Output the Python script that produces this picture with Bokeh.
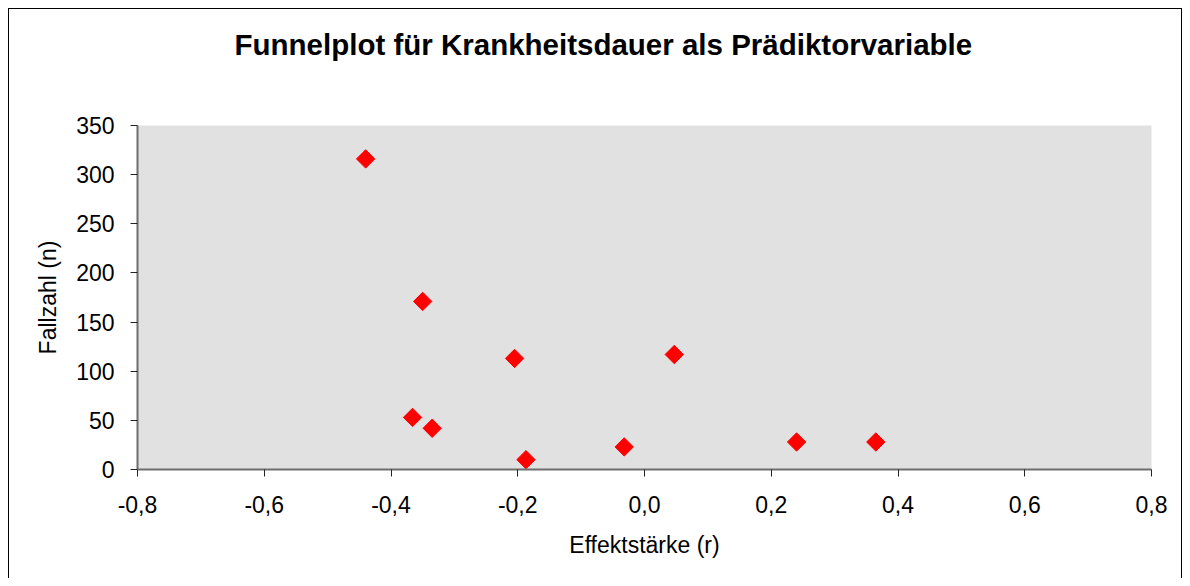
from bokeh.plotting import figure
from bokeh.models import FixedTicker, Range1d, Title
from bokeh.embed import file_html
from bokeh.resources import INLINE

# ---- data ----
effect_r = [-0.44, -0.35, -0.205, 0.047, -0.366, -0.335, -0.187, -0.032, 0.24, 0.365]
cases_n = [316, 171, 113, 117, 53, 42, 10, 23, 28, 28]

x_ticks = [-0.8, -0.6, -0.4, -0.2, 0, 0.2, 0.4, 0.6, 0.8]
x_tick_labels = ["-0,8", "-0,6", "-0,4", "-0,2", "0,0", "0,2", "0,4", "0,6", "0,8"]
y_ticks = [0, 50, 100, 150, 200, 250, 300, 350]
y_tick_labels = ["0", "50", "100", "150", "200", "250", "300", "350"]

title_text = "Funnelplot für Krankheitsdauer als Prädiktorvariable"
x_label = "Effektstärke (r)"
y_label = "Fallzahl (n)"

FONT = "Liberation Sans"
W, H = 1174, 570

p = figure(width=W, height=H, output_backend="svg", toolbar_location=None,
           x_range=Range1d(-0.8, 0.8), y_range=Range1d(0, 350),
           min_border_left=128, min_border_right=32, min_border_top=116, min_border_bottom=110)

p.background_fill_color = "#e1e1e1"
p.border_fill_color = "white"
p.outline_line_color = None
p.xgrid.visible = False
p.ygrid.visible = False
p.styles = {"margin-left": "8px", "margin-top": "8px",
            "border-left": "1px solid black", "border-top": "1px solid black",
            "border-right": "1px solid black"}

p.scatter(effect_r, cases_n, marker="square", size=13, angle=0.785398,
          fill_color="#ff0000", line_color="#ff0000", line_width=1)

for ax in (p.xaxis[0], p.yaxis[0]):
    ax.axis_line_color = "#6e6e6e"
    ax.axis_line_width = 2
    ax.major_tick_line_color = "#222222"
    ax.major_tick_line_width = 1
    ax.major_tick_out = 7
    ax.major_tick_in = 0
    ax.minor_tick_line_color = None
    ax.major_label_text_font = FONT
    ax.major_label_text_font_size = "23px"
    ax.major_label_text_color = "black"
    ax.axis_label_text_font = FONT
    ax.axis_label_text_font_size = "23px"
    ax.axis_label_text_font_style = "normal"
    ax.axis_label_text_color = "black"

p.xaxis.ticker = FixedTicker(ticks=x_ticks)
p.xaxis.major_label_overrides = dict(zip(x_ticks, x_tick_labels))
p.yaxis.ticker = FixedTicker(ticks=y_ticks)
p.yaxis.major_label_overrides = dict(zip(y_ticks, y_tick_labels))
p.xaxis.axis_label = x_label
p.yaxis.axis_label = y_label
p.xaxis.major_label_standoff = 19
p.yaxis.major_label_standoff = 16
p.xaxis.axis_label_standoff = 16
p.yaxis.axis_label_standoff = 12

# spacer panel between the frame and the title (closest to the frame)
p.add_layout(Title(text=" ", text_font_size="1px", standoff=57), "above")
# the real title (added later -> farther from the frame)
p.add_layout(Title(text=title_text, text_font=FONT, text_font_size="29.5px",
                   text_font_style="bold", text_color="black", align="left",
                   offset=97, vertical_align="bottom", standoff=10), "above")

open("out.html", "w").write(file_html(p, INLINE))
